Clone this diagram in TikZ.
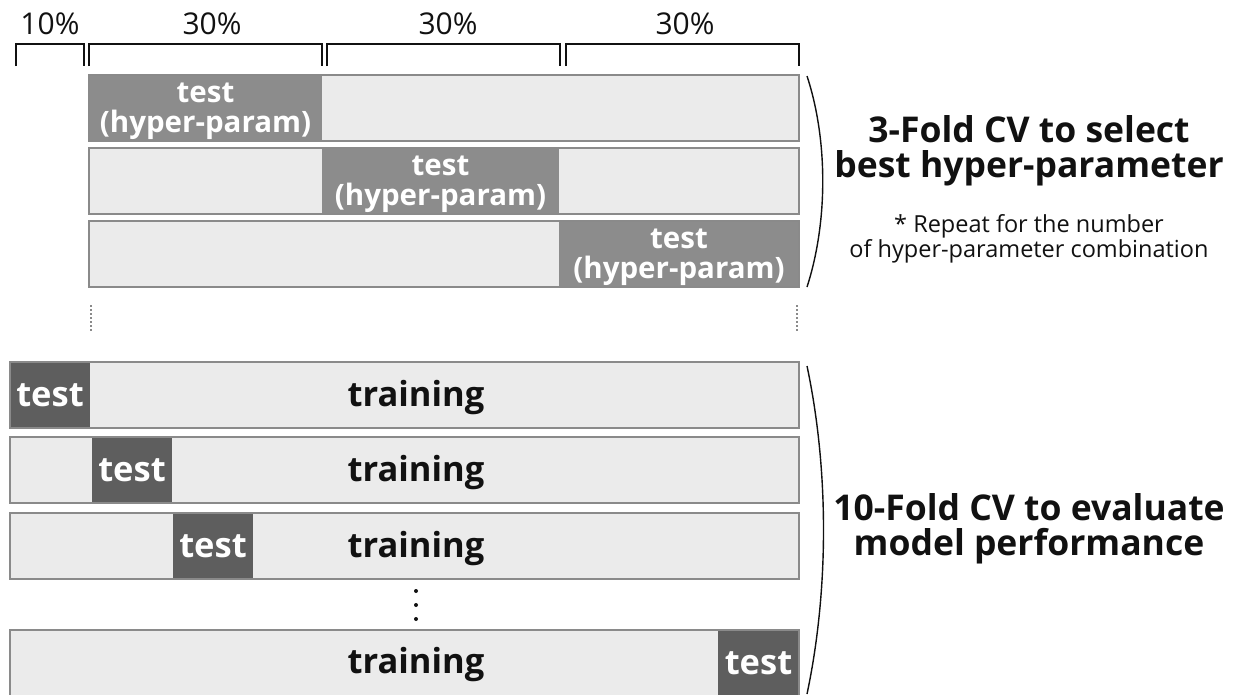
\documentclass[tikz,border=0pt]{standalone}
\usepackage{fontspec}
\setmainfont{Open Sans}
\definecolor{barfill}{HTML}{EBEBEB}
\definecolor{barline}{HTML}{8A8A8A}
\definecolor{hypfill}{HTML}{8C8C8C}
\definecolor{tstfill}{HTML}{5E5E5E}
\definecolor{ink}{HTML}{111111}
\begin{document}
\begin{tikzpicture}[x=1pt,y=-1pt,
  bar/.style={draw=barline, line width=2.6pt, inner sep=0pt, outer sep=0pt,
    anchor=north west, minimum height=66pt},
  barbg/.style={fill=barfill, inner sep=0pt, outer sep=0pt,
    anchor=north west, minimum height=66pt},
  hyp/.style={fill=hypfill, inner sep=0pt, outer sep=0pt, anchor=north west,
    minimum height=66pt},
  hyptext/.style={text=white, align=center, inner sep=0pt,
    font=\bfseries\fontsize{29.5}{30}\selectfont},
  tst/.style={fill=tstfill, inner sep=0pt, outer sep=0pt, anchor=north west,
    minimum height=66pt, text=white, font=\bfseries\fontsize{34.5}{36}\selectfont},
  trn/.style={text=ink, font=\bfseries\fontsize{34.5}{36}\selectfont},
  pct/.style={text=ink, font=\fontsize{30}{32}\selectfont},
  brk/.style={draw=ink, line width=2.6pt, line join=miter},
  title/.style={text=ink, align=center, font=\bfseries\fontsize{35.5}{35}\selectfont},
  note/.style={text=ink, align=center, font=\fontsize{23.5}{25}\selectfont},
  paren/.style={draw=ink, line width=1.4pt},
  vdots/.style={draw=barline, line width=2pt, dotted},
]
\useasboundingbox (0,0) rectangle (1246,694);
\fill[white] (0,0) rectangle (1246,694);

% percentage brackets
\node[pct] (p10) at (50,24) {10\%};
\node[pct] (p30a) at (212,24) {30\%};
\node[pct] (p30b) at (448,24) {30\%};
\node[pct] (p30c) at (685,24) {30\%};
\draw[brk] (16,66) -- (16,44) -- (84,44) -- (84,66);
\draw[brk] (89,66) -- (89,44) -- (322,44) -- (322,66);
\draw[brk] (327,66) -- (327,44) -- (560,44) -- (560,66);
\draw[brk] (566,66) -- (566,44) -- (799,44) -- (799,66);

% 3-fold inner CV rows
\node[barbg, minimum width=710pt] (h1bg) at (89,75) {};
\node[hyp, minimum width=233pt] (h1t) at (89,75) {};
\node[hyptext, yshift=-3pt] at (h1t.center) {test\\(hyper-param)};
\node[bar, minimum width=710pt] (h1) at (89,75) {};

\node[barbg, minimum width=710pt] (h2bg) at (89,148) {};
\node[hyp, minimum width=237pt] (h2t) at (322,148) {};
\node[hyptext, yshift=-3pt] at (h2t.center) {test\\(hyper-param)};
\node[bar, minimum width=710pt] (h2) at (89,148) {};

\node[barbg, minimum width=710pt] (h3bg) at (89,221) {};
\node[hyp, minimum width=240pt] (h3t) at (559,221) {};
\node[hyptext, yshift=-3pt] at (h3t.center) {test\\(hyper-param)};
\node[bar, minimum width=710pt] (h3) at (89,221) {};

% continuation marks
\coordinate (dl1) at (91,305);
\coordinate (dl2) at (91,332);
\coordinate (dr1) at (797,305);
\coordinate (dr2) at (797,332);
\draw[vdots] (dl1) -- (dl2);
\draw[vdots] (dr1) -- (dr2);

% 10-fold outer CV rows
\node[barbg, minimum width=789pt] (o1bg) at (10,362) {};
\node[tst, minimum width=80pt] (o1t) at (10,362) {test};
\node[bar, minimum width=789pt] (o1) at (10,362) {};
\node[trn] at (416,398) {training};

\node[barbg, minimum width=789pt] (o2bg) at (10,437) {};
\node[tst, minimum width=80pt] (o2t) at (92,437) {test};
\node[bar, minimum width=789pt] (o2) at (10,437) {};
\node[trn] at (416,473) {training};

\node[barbg, minimum width=789pt] (o3bg) at (10,513) {};
\node[tst, minimum width=80pt] (o3t) at (173,513) {test};
\node[bar, minimum width=789pt] (o3) at (10,513) {};
\node[trn] at (416,549) {training};

\foreach \y in {591,605,619} \fill[ink] (416,\y) circle (2pt);

\node[barbg, minimum width=789pt] (o4bg) at (10,630) {};
\node[tst, minimum width=81pt] (o4t) at (718,630) {test};
\node[bar, minimum width=789pt] (o4) at (10,630) {};
\node[trn] at (416,665) {training};

% grouping parentheses and captions
\draw[paren] (807,76) .. controls (828,140) and (828,222) .. (807,287);
\draw[paren] (807,366) .. controls (829,470) and (829,590) .. (807,694);

\node[title] (t1) at (1029,151) {3-Fold CV to select\\best hyper-parameter};
\node[note] (n1) at (1029,239) {* Repeat for the number\\of hyper-parameter combination};
\node[title] (t2) at (1029,529) {10-Fold CV to evaluate\\model performance};
\end{tikzpicture}
\end{document}
